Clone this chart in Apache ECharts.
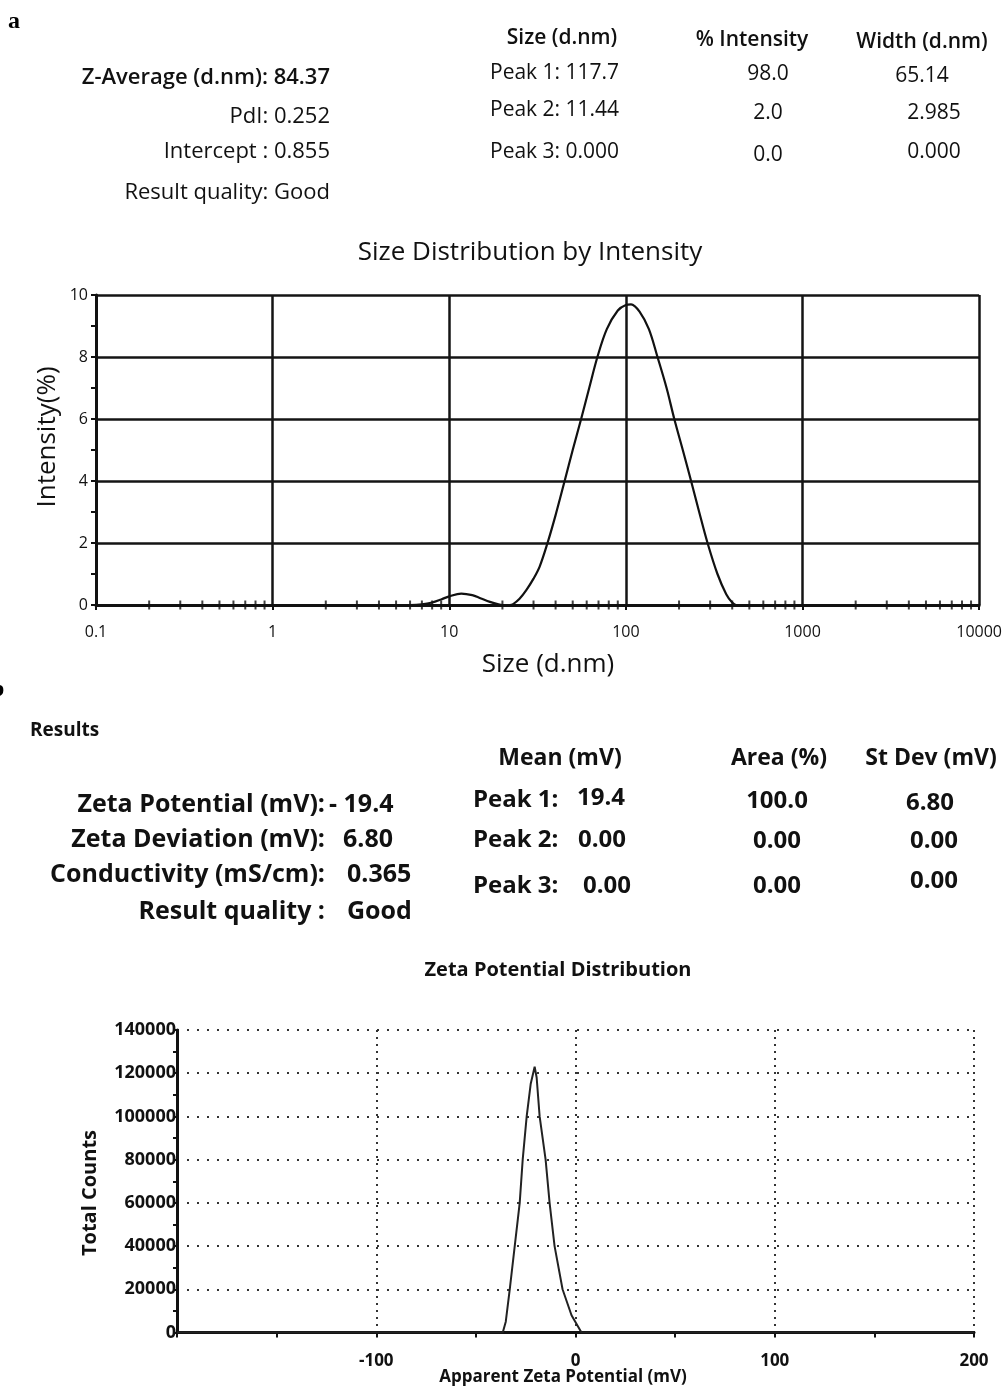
<!DOCTYPE html>
<html>
<head>
<meta charset="utf-8">
<script src="https://cdn.jsdelivr.net/npm/echarts@6/dist/echarts.min.js"></script>
<style>
html,body{margin:0;padding:0;background:#fff;}
#chart{width:1005px;height:1386px;}
</style>
</head>
<body>
<div id="chart"></div>
<script>
// ---------- DATA ----------
// (a) Size distribution by intensity
const sizeNm = [0.1, 6, 7, 8, 9, 10, 11.7, 13.5, 15, 17, 19, 20, 22, 23, 25, 27.3, 30, 32.5, 36, 40, 45, 50, 55.8, 62, 69, 78, 90, 100, 107, 120, 135, 151, 170, 188, 210, 234, 260, 290, 330, 370, 400, 421, 10000];
const intensityPct = [0, 0, 0.02, 0.08, 0.18, 0.28, 0.37, 0.32, 0.22, 0.1, 0.02, 0, 0, 0.03, 0.2, 0.48, 0.85, 1.24, 2.0, 2.9, 4.0, 5.0, 6.0, 7.0, 8.0, 8.9, 9.5, 9.68, 9.7, 9.45, 8.9, 8.0, 7.0, 6.0, 5.0, 4.0, 3.0, 2.0, 1.0, 0.35, 0.08, 0, 0];

// (b) Zeta potential distribution
const zetaMv = [-200, -36.5, -35, -33, -30.5, -28, -26.5, -24.5, -22.5, -20.5, -19.5, -18, -15, -13, -10.5, -6.5, -2, 3, 200];
const zetaCounts = [0, 0, 5000, 20000, 40000, 60000, 80000, 100000, 115000, 123000, 118000, 100000, 80000, 60000, 40000, 20000, 8000, 0, 0];

// Summary tables
const sizeSummaryLabels = ['Z-Average (d.nm):', 'PdI:', 'Intercept :', 'Result quality:'];
const sizeSummaryValues = ['84.37', '0.252', '0.855', 'Good'];
const sizeTableHeaders = ['Size (d.nm)', '% Intensity', 'Width (d.nm)'];
const sizePeakNames = ['Peak 1:', 'Peak 2:', 'Peak 3:'];
const sizePeakSizes = ['117.7', '11.44', '0.000'];
const sizePeakIntensity = ['98.0', '2.0', '0.0'];
const sizePeakWidth = ['65.14', '2.985', '0.000'];

const zetaSummaryLabels = ['Zeta Potential (mV):', 'Zeta Deviation (mV):', 'Conductivity (mS/cm):', 'Result quality :'];
const zetaSummaryValues = ['- 19.4', '6.80', '0.365', 'Good'];
const zetaTableHeaders = ['Mean (mV)', 'Area (%)', 'St Dev (mV)'];
const zetaPeakNames = ['Peak 1:', 'Peak 2:', 'Peak 3:'];
const zetaPeakMeans = ['19.4', '0.00', '0.00'];
const zetaPeakArea = ['100.0', '0.00', '0.00'];
const zetaPeakStdev = ['6.80', '0.00', '0.00'];

// ---------- CHART ----------
const FONT = '"Open Sans", "Noto Sans", sans-serif';
const INK = '#111';

function T(text, x, y, size, weight, align, extra) {
  const e = {
    type: 'text', x: x, y: y, silent: true,
    style: {
      text: text, font: (weight || 'normal') + ' ' + size + 'px ' + FONT,
      fill: INK, textAlign: align || 'left', textVerticalAlign: 'middle'
    }
  };
  if (extra) Object.assign(e, extra);
  return e;
}

const g = [];
// panel letters
g.push({type:'text', x: 8, y: 22, silent:true, style:{text:'a', font:'bold 24px "Liberation Serif", serif', fill:'#000', textAlign:'left', textVerticalAlign:'middle'}});
g.push({type:'text', x: -9, y: 690, silent:true, style:{text:'b', font:'bold 24px "Liberation Serif", serif', fill:'#000', textAlign:'left', textVerticalAlign:'middle'}});

// (a) summary
const aRowsY = [78, 117, 152, 193];
sizeSummaryLabels.forEach((l, i) => {
  const w = i === 0 ? '600' : 'normal';
  g.push(T(l + ' ' + sizeSummaryValues[i], 330, aRowsY[i], 22, w, 'right'));
});
const aColX = [562, 752, 922];
const aHeadY = [38, 40, 42];
sizeTableHeaders.forEach((h, i) => g.push(T(h, aColX[i], aHeadY[i], 21, '600', 'center')));
const aPeakY = [73, 110, 152];
sizePeakNames.forEach((p, i) => {
  g.push(T(p + ' ' + sizePeakSizes[i], 490, aPeakY[i], 21, 'normal', 'left'));
});
const aIntY = [74, 113, 155];
sizePeakIntensity.forEach((v, i) => g.push(T(v, 768, aIntY[i], 21, 'normal', 'center')));
const aWidX = [922, 934, 934];
const aWidY = [76, 113, 152];
sizePeakWidth.forEach((v, i) => g.push(T(v, aWidX[i], aWidY[i], 21, 'normal', 'center')));

g.push(T('Size Distribution by Intensity', 530, 253, 26, 'normal', 'center'));
g.push(T('Intensity(%)', 48, 437, 26, 'normal', 'center', {rotation: Math.PI / 2}));
g.push(T('Size (d.nm)', 548, 665, 26, 'normal', 'center'));

// (b) summary
g.push(T('Results', 30, 731, 19, 'bold', 'left'));
const bRowsY = [805, 840, 875, 912];
const bValX = [329, 343, 347, 347];
zetaSummaryLabels.forEach((l, i) => {
  g.push(T(l, 325, bRowsY[i], 25, 'bold', 'right'));
  g.push(T(zetaSummaryValues[i], bValX[i], bRowsY[i], 25, 'bold', 'left'));
});
const bColX = [560, 779, 931];
zetaTableHeaders.forEach((h, i) => g.push(T(h, bColX[i], 758, 23, 'bold', 'center')));
const bPeakY = [800, 840, 886];
const bMeanX = [577, 578, 583];
zetaPeakNames.forEach((p, i) => {
  g.push(T(p, 473, bPeakY[i], 24, 'bold', 'left'));
  g.push(T(zetaPeakMeans[i], bMeanX[i], bPeakY[i] - (i === 0 ? 2 : 0), 24, 'bold', 'left'));
});
const bAreaY = [801, 841, 886];
zetaPeakArea.forEach((v, i) => g.push(T(v, 777, bAreaY[i], 24, 'bold', 'center')));
const bStdX = [930, 934, 934];
const bStdY = [803, 841, 881];
zetaPeakStdev.forEach((v, i) => g.push(T(v, bStdX[i], bStdY[i], 24, 'bold', 'center')));

g.push(T('Zeta Potential Distribution', 558, 970, 20, 'bold', 'center'));
g.push(T('Total Counts', 90, 1193, 20, 'bold', 'center', {rotation: Math.PI / 2}));
g.push(T('Apparent Zeta Potential (mV)', 563, 1377, 17, 'bold', 'center'));

// minor tick positions for log axis (2..9 per decade)
const logMinor = [];
[0.1, 1, 10, 100, 1000].forEach(d => { for (let k = 2; k <= 9; k++) logMinor.push([k * d, 0]); });

const solid = {color: '#141414', width: 2.5};

const option = {
  animation: false,
  backgroundColor: '#fff',
  grid: [
    {left: 96, top: 295, width: 884, height: 310, show: false},
    {left: 177, top: 1030, width: 797, height: 302.5, show: false}
  ],
  xAxis: [
    {
      gridIndex: 0, type: 'log', logBase: 10, min: 0.1, max: 10000,
      axisLine: {show: true, onZero: false, lineStyle: {color: '#111', width: 3}},
      axisTick: {show: true, length: 5, lineStyle: {color: '#111', width: 2}},
      axisLabel: {color: INK, fontSize: 16, fontFamily: FONT, margin: 19,
        formatter: v => String(+v.toPrecision(3))},
      splitLine: {show: true, lineStyle: solid}
    },
    {
      gridIndex: 1, type: 'value', min: -200, max: 200, interval: 100,
      axisLine: {show: true, onZero: false, lineStyle: {color: '#111', width: 3}},
      axisTick: {show: true, length: 5, lineStyle: {color: '#111', width: 2}},
      minorTick: {show: true, splitNumber: 2, length: 5, lineStyle: {color: '#111', width: 2}},
      axisLabel: {color: INK, fontSize: 17, fontWeight: 'bold', fontFamily: FONT, margin: 20,
        formatter: v => (v === -200 ? '' : String(v))},
      splitLine: {show: true, lineStyle: {color: '#333', width: 2, type: [2, 5]}}
    }
  ],
  yAxis: [
    {
      gridIndex: 0, type: 'value', min: 0, max: 10, interval: 2,
      axisLine: {show: true, onZero: false, lineStyle: {color: '#111', width: 3}},
      axisTick: {show: true, length: 5, lineStyle: {color: '#111', width: 2}},
      minorTick: {show: true, splitNumber: 2, length: 5, lineStyle: {color: '#111', width: 2}},
      axisLabel: {color: INK, fontSize: 16, fontFamily: FONT, margin: 8},
      splitLine: {show: true, lineStyle: solid}
    },
    {
      gridIndex: 1, type: 'value', min: 0, max: 140000, interval: 20000,
      axisLine: {show: true, onZero: false, lineStyle: {color: '#111', width: 3}},
      axisTick: {show: true, length: 4, lineStyle: {color: '#111', width: 2}},
      minorTick: {show: true, splitNumber: 2, length: 4, lineStyle: {color: '#111', width: 2}},
      axisLabel: {color: INK, fontSize: 18, fontWeight: 'bold', fontFamily: FONT, margin: 1,
        formatter: v => String(v)},
      splitLine: {show: true, lineStyle: {color: '#333', width: 2, type: [2, 8]}}
    }
  ],
  series: [
    {
      type: 'line', xAxisIndex: 0, yAxisIndex: 0,
      data: sizeNm.map((s, i) => [s, intensityPct[i]]),
      smooth: 0.35, showSymbol: false, silent: true,
      lineStyle: {color: '#111', width: 2.2}
    },
    {
      type: 'scatter', xAxisIndex: 0, yAxisIndex: 0, data: logMinor,
      symbol: 'rect', symbolSize: [2, 9], itemStyle: {color: '#111'},
      silent: true, clip: false
    },
    {
      type: 'line', xAxisIndex: 1, yAxisIndex: 1,
      data: zetaMv.map((m, i) => [m, zetaCounts[i]]),
      smooth: false, showSymbol: false, silent: true,
      lineStyle: {color: '#222', width: 2}
    }
  ],
  graphic: g
};

const chart = echarts.init(document.getElementById('chart'), null, {renderer: 'canvas'});
chart.setOption(option);
</script>
</body>
</html>
